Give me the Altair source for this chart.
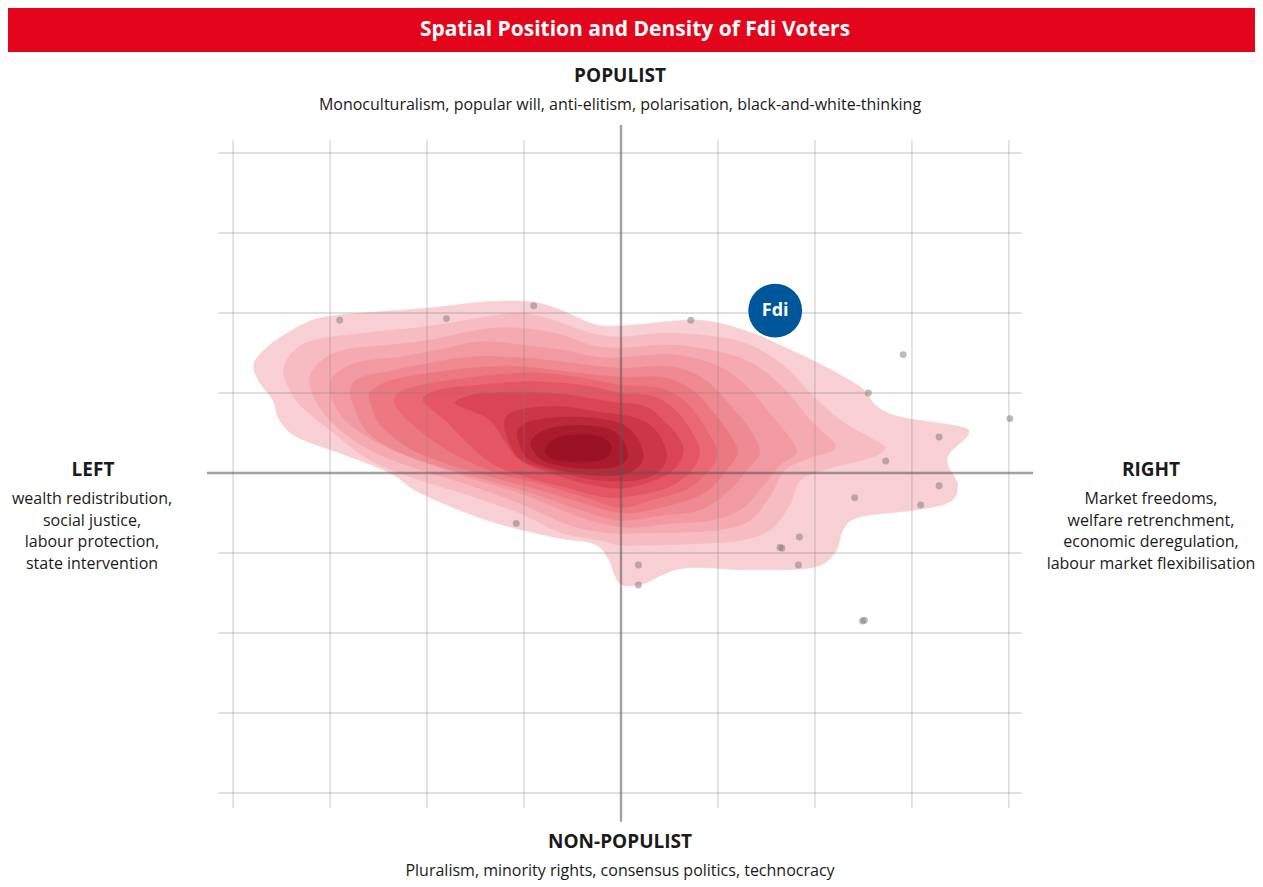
import altair as alt
import pandas as pd

# ---------------- data ----------------
# economic axis: left (-) / right (+); cultural axis: non-populist (-) / populist (+)
grid_ticks = [-4, -3, -2, -1, 0, 1, 2, 3, 4]

# density contour outlines, outermost (lowest density) to innermost (highest)
contour_1 = [(-3.78, 1.38), (-3.59, 1.63), (-3.24, 1.88), (-3.00, 1.96), (-2.56, 2.01), (-2.00, 2.06),
             (-1.38, 2.14), (-0.94, 2.14), (-0.63, 2.04), (-0.25, 1.85), (0.12, 1.85), (0.81, 1.91),
             (1.33, 1.76), (1.67, 1.58), (2.02, 1.38), (2.46, 1.08), (2.64, 0.83), (2.88, 0.70),
             (3.49, 0.58), (3.58, 0.48), (3.39, 0.25), (3.37, 0.10), (3.47, -0.15), (3.39, -0.36),
             (3.05, -0.46), (2.46, -0.55), (2.29, -0.71), (2.21, -0.99), (1.98, -1.18), (1.33, -1.21),
             (0.64, -1.19), (0.23, -1.38), (-0.01, -1.38), (-0.14, -1.05), (-0.29, -0.88), (-0.70, -0.80),
             (-1.38, -0.59), (-2.07, -0.25), (-2.38, 0.00), (-2.90, 0.25), (-3.34, 0.45), (-3.52, 0.66),
             (-3.59, 0.91), (-3.74, 1.16)]
contour_2 = [(-3.48, 1.29), (-3.41, 1.48), (-3.24, 1.63), (-2.97, 1.70), (-2.56, 1.76), (-2.00, 1.83),
             (-1.38, 1.95), (-1.04, 2.00), (-0.70, 1.91), (-0.35, 1.76), (-0.01, 1.70), (0.47, 1.75),
             (0.99, 1.70), (1.33, 1.60), (1.67, 1.35), (1.95, 1.00), (2.26, 0.66), (2.57, 0.44),
             (2.72, 0.31), (2.57, 0.19), (2.15, 0.06), (1.85, -0.09), (1.74, -0.40), (1.54, -0.71),
             (1.23, -0.84), (0.81, -0.88), (0.30, -0.90), (-0.01, -0.90), (-0.22, -0.84), (-0.63, -0.74),
             (-1.04, -0.50), (-1.56, -0.28), (-2.07, -0.09), (-2.59, 0.16), (-3.00, 0.54), (-3.31, 0.85),
             (-3.44, 1.10)]
contour_3 = [(-3.21, 1.16), (-3.10, 1.39), (-2.85, 1.54), (-2.38, 1.60), (-1.97, 1.66), (-1.45, 1.79),
             (-1.04, 1.81), (-0.63, 1.73), (-0.32, 1.60), (-0.01, 1.56), (0.51, 1.60), (1.02, 1.51),
             (1.38, 1.35), (1.69, 1.04), (1.95, 0.66), (2.21, 0.33), (1.95, 0.19), (1.69, 0.04),
             (1.54, -0.28), (1.33, -0.59), (1.02, -0.71), (0.61, -0.74), (0.20, -0.75), (-0.11, -0.75),
             (-0.53, -0.65), (-1.04, -0.38), (-1.56, -0.15), (-2.07, 0.04), (-2.54, 0.26), (-2.90, 0.54),
             (-3.12, 0.85)]
contour_4 = [(-3.00, 1.10), (-2.92, 1.26), (-2.69, 1.39), (-2.28, 1.45), (-1.87, 1.54), (-1.45, 1.64),
             (-1.04, 1.60), (-0.63, 1.54), (-0.27, 1.45), (-0.01, 1.44), (0.51, 1.48), (0.97, 1.35),
             (1.28, 1.10), (1.54, 0.73), (1.81, 0.29), (1.64, 0.10), (1.43, -0.21), (1.23, -0.46),
             (0.92, -0.59), (0.51, -0.63), (0.09, -0.68), (-0.32, -0.59), (-0.73, -0.40), (-1.04, -0.25),
             (-1.56, -0.06), (-2.02, 0.14), (-2.43, 0.33), (-2.79, 0.60), (-2.95, 0.85)]
contour_5 = [(-2.79, 1.04), (-2.69, 1.19), (-2.43, 1.26), (-2.07, 1.35), (-1.56, 1.45), (-1.04, 1.44),
             (-0.63, 1.39), (-0.01, 1.31), (0.51, 1.33), (0.87, 1.16), (1.12, 0.85), (1.33, 0.54),
             (1.43, 0.26), (1.31, 0.06), (1.12, -0.21), (0.81, -0.46), (0.40, -0.53), (-0.01, -0.59),
             (-0.42, -0.46), (-0.84, -0.28), (-1.25, -0.13), (-1.76, 0.04), (-2.23, 0.23), (-2.59, 0.48),
             (-2.74, 0.79)]
contour_6 = [(-2.59, 1.00), (-2.43, 1.13), (-2.07, 1.23), (-1.56, 1.31), (-1.04, 1.33), (-0.53, 1.26),
             (-0.01, 1.20), (0.45, 1.19), (0.76, 1.01), (0.97, 0.73), (1.12, 0.48), (1.20, 0.26),
             (1.09, 0.04), (0.87, -0.24), (0.51, -0.40), (0.04, -0.50), (-0.37, -0.38), (-0.84, -0.21),
             (-1.30, -0.06), (-1.76, 0.10), (-2.18, 0.31), (-2.48, 0.60), (-2.57, 0.85)]
contour_7 = [(-2.33, 0.95), (-2.18, 1.06), (-1.76, 1.16), (-1.25, 1.23), (-0.84, 1.25), (-0.42, 1.19),
             (-0.01, 1.10), (0.40, 1.06), (0.66, 0.89), (0.85, 0.60), (0.99, 0.26), (0.89, 0.01),
             (0.66, -0.21), (0.30, -0.34), (-0.01, -0.43), (-0.37, -0.30), (-0.84, -0.13), (-1.30, 0.01),
             (-1.71, 0.23), (-2.02, 0.48), (-2.28, 0.76)]
contour_8 = [(-2.04, 0.91), (-1.87, 1.04), (-1.45, 1.10), (-0.94, 1.14), (-0.42, 1.10), (-0.01, 1.00),
             (0.35, 0.95), (0.58, 0.76), (0.73, 0.51), (0.81, 0.26), (0.71, 0.01), (0.48, -0.18),
             (0.14, -0.28), (-0.16, -0.30), (-0.53, -0.19), (-0.94, -0.06), (-1.30, 0.10), (-1.56, 0.35),
             (-1.81, 0.66)]
contour_9 = [(-1.71, 0.88), (-1.51, 0.98), (-1.04, 1.01), (-0.58, 0.98), (-0.11, 0.89), (0.25, 0.83),
             (0.45, 0.64), (0.59, 0.45), (0.64, 0.26), (0.54, 0.04), (0.30, -0.11), (-0.01, -0.19),
             (-0.37, -0.13), (-0.75, 0.01), (-1.04, 0.16), (-1.20, 0.41), (-1.35, 0.66), (-1.56, 0.79)]
contour_10 = [(-1.20, 0.66), (-1.04, 0.79), (-0.63, 0.83), (-0.22, 0.76), (0.14, 0.69), (0.35, 0.54),
              (0.47, 0.23), (0.38, 0.01), (0.14, -0.09), (-0.22, -0.09), (-0.63, 0.01), (-0.99, 0.14),
              (-1.14, 0.35)]
contour_11 = [(-1.06, 0.54), (-0.89, 0.66), (-0.47, 0.70), (-0.06, 0.64), (0.14, 0.48), (0.23, 0.19),
              (0.09, 0.01), (-0.22, -0.03), (-0.63, 0.04), (-0.94, 0.16), (-1.04, 0.35)]
contour_12 = [(-0.92, 0.41), (-0.73, 0.56), (-0.37, 0.59), (-0.06, 0.51), (0.07, 0.23), (-0.06, 0.08),
              (-0.42, 0.06), (-0.75, 0.13), (-0.89, 0.26)]
contour_13 = [(-0.78, 0.31), (-0.63, 0.45), (-0.32, 0.48), (-0.13, 0.39), (-0.11, 0.26), (-0.22, 0.16),
              (-0.53, 0.14), (-0.73, 0.20)]

contours = [contour_1, contour_2, contour_3, contour_4, contour_5, contour_6, contour_7,
            contour_8, contour_9, contour_10, contour_11, contour_12, contour_13]
contour_colors = ["#f8cfd3", "#f6bcc1", "#f4aab0", "#f29aa1", "#ef8a92", "#ec7982", "#e96873",
                  "#e45663", "#da4554", "#cc3646", "#bb283a", "#aa1b2e", "#9a1224"]

# individual voters
voter_x = [-2.90, -1.80, -0.90, 0.72, 2.91, 2.55, 4.01, 3.28, 2.73, 3.28, 2.41, 3.09,
           -1.08, 1.64, 1.66, 1.84, 0.18, 1.83, 0.18, 2.49, 2.51]
voter_y = [1.91, 1.93, 2.09, 1.91, 1.48, 1.00, 0.68, 0.45, 0.15, -0.16, -0.31, -0.40,
           -0.63, -0.93, -0.94, -0.80, -1.15, -1.15, -1.40, -1.85, -1.84]

# party position
party_name = ["Fdi"]
party_x = [1.59]
party_y = [2.03]

# ---------------- chart ----------------
XDOM = [-4.3, 4.3]
YDOM = [-4.4, 4.4]
xs = alt.Scale(domain=XDOM, nice=False, zero=False)
ys = alt.Scale(domain=YDOM, nice=False, zero=False)
FONT = "Open Sans"

layers = []

# contour polygons
for lvl, (pts, col) in enumerate(zip(contours, contour_colors)):
    d = pd.DataFrame({"x": [p[0] for p in pts], "y": [p[1] for p in pts],
                      "i": list(range(len(pts)))})
    layers.append(
        alt.Chart(d).mark_line(fill=col, stroke=col, strokeWidth=0.6, interpolate="cardinal-closed")
        .encode(x=alt.X("x:Q", scale=xs, axis=None),
                y=alt.Y("y:Q", scale=ys, axis=None),
                order=alt.Order("i:Q"))
    )

# grid lines (drawn over the density, semi-transparent)
vgrid = pd.DataFrame({"x": [t for t in grid_ticks if t != 0], "y1": -4.19, "y2": 4.16})
hgrid = pd.DataFrame({"y": [t for t in grid_ticks if t != 0], "x1": -4.15, "x2": 4.13})
layers.append(alt.Chart(vgrid).mark_rule(color="#808080", opacity=0.33, strokeWidth=1.3)
              .encode(x=alt.X("x:Q", scale=xs), y=alt.Y("y1:Q", scale=ys), y2="y2:Q"))
layers.append(alt.Chart(hgrid).mark_rule(color="#808080", opacity=0.33, strokeWidth=1.3)
              .encode(y=alt.Y("y:Q", scale=ys), x=alt.X("x1:Q", scale=xs), x2="x2:Q"))

# main axes through the origin
vaxis = pd.DataFrame({"x": [0], "y1": [-4.36], "y2": [4.35]})
haxis = pd.DataFrame({"y": [0], "x1": [-4.27], "x2": [4.25]})
layers.append(alt.Chart(vaxis).mark_rule(color="#555555", opacity=0.55, strokeWidth=2.4)
              .encode(x=alt.X("x:Q", scale=xs), y=alt.Y("y1:Q", scale=ys), y2="y2:Q"))
layers.append(alt.Chart(haxis).mark_rule(color="#555555", opacity=0.55, strokeWidth=2.4)
              .encode(y=alt.Y("y:Q", scale=ys), x=alt.X("x1:Q", scale=xs), x2="x2:Q"))

# voters
vdf = pd.DataFrame({"x": voter_x, "y": voter_y})
layers.append(alt.Chart(vdf).mark_circle(color="#8a8080", opacity=0.55, size=48)
              .encode(x=alt.X("x:Q", scale=xs), y=alt.Y("y:Q", scale=ys)))

# party marker
pdf = pd.DataFrame({"name": party_name, "x": party_x, "y": party_y})
layers.append(alt.Chart(pdf).mark_circle(color="#00569b", opacity=1, size=2900)
              .encode(x=alt.X("x:Q", scale=xs), y=alt.Y("y:Q", scale=ys)))
layers.append(alt.Chart(pdf).mark_text(color="white", font=FONT, fontWeight="bold", fontSize=18)
              .encode(x=alt.X("x:Q", scale=xs), y=alt.Y("y:Q", scale=ys), text="name:N"))

one = alt.Data(values=[{"a": 1}])


def label(txt, px, py, size, bold=False, color="#1a1a1a"):
    return alt.Chart(one).mark_text(text=txt, font=FONT, fontSize=size,
                                    fontWeight="bold" if bold else "normal",
                                    color=color, align="center", baseline="middle").encode(
        x=alt.value(px), y=alt.value(py))


# title banner
layers.append(alt.Chart(one).mark_rect(color="#e3051b").encode(
    x=alt.value(-196), x2=alt.value(1051), y=alt.value(-113), y2=alt.value(-69)))
layers.append(label("Spatial Position and Density of Fdi Voters", 431, -91, 21, True, "white"))

# axis pole labels
layers.append(label("POPULIST", 416, -45, 19, True))
layers.append(label("Monoculturalism, popular will, anti-elitism, polarisation, black-and-white-thinking",
                    416, -16, 16))
layers.append(label("NON-POPULIST", 416, 721, 19, True))
layers.append(label("Pluralism, minority rights, consensus politics, technocracy", 416, 750, 16))

layers.append(label("LEFT", -111, 349, 19, True))
left_lines = ["wealth redistribution,", "social justice,", "labour protection,", "state intervention"]
for k, t in enumerate(left_lines):
    layers.append(label(t, -112, 378 + 21.7 * k, 16))

layers.append(label("RIGHT", 947, 349, 19, True))
right_lines = ["Market freedoms,", "welfare retrenchment,", "economic deregulation,",
               "labour market flexibilisation"]
for k, t in enumerate(right_lines):
    layers.append(label(t, 947, 378 + 21.7 * k, 16))

chart = alt.layer(*layers).properties(
    width=834, height=704,
    padding={"left": 196, "top": 113, "right": 217, "bottom": 60},
    autosize="none",
).configure_view(stroke=None)

chart.save("out.html", embed_options={"renderer": "svg", "actions": False})
